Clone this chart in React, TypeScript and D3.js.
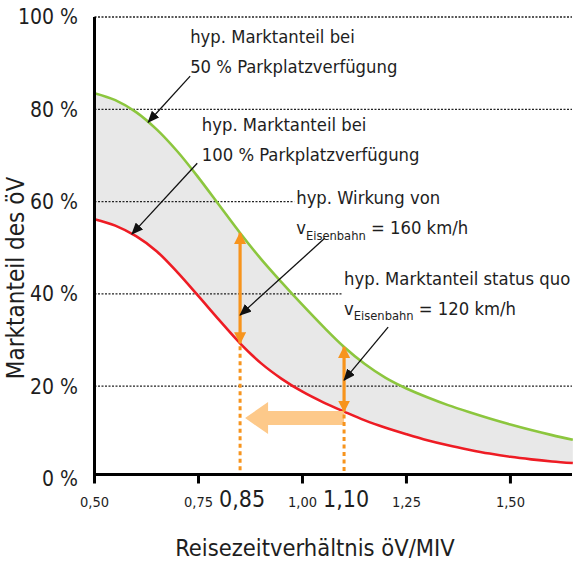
import * as React from 'react';
import * as d3 from 'd3';

// Reisezeitverhältnis öV/MIV
const ratios = [0.5, 0.55, 0.6, 0.65, 0.7, 0.75, 0.8, 0.85, 0.9, 0.95, 1.0, 1.05, 1.1, 1.15, 1.2, 1.25, 1.3, 1.35, 1.4, 1.45, 1.5, 1.55, 1.6, 1.65];
// Marktanteil öV bei 50 % Parkplatzverfügung (green)
const share50 = [83.5, 82.0, 79.4, 75.6, 70.8, 65.2, 59.2, 53.2, 47.6, 42.5, 37.6, 32.9, 28.5, 24.8, 21.8, 19.5, 17.6, 15.9, 14.4, 13.0, 11.7, 10.5, 9.4, 8.4];
// Marktanteil öV bei 100 % Parkplatzverfügung (red)
const share100 = [56.2, 54.8, 52.5, 49.2, 44.6, 39.5, 34.3, 29.3, 25.0, 21.6, 18.8, 16.5, 14.5, 12.6, 11.0, 9.6, 8.3, 7.2, 6.25, 5.4, 4.7, 4.15, 3.7, 3.35];

const yTicks = [0, 20, 40, 60, 80, 100];
const yTickLabels = ['0 %', '20 %', '40 %', '60 %', '80 %', '100 %'];
const xTicks = [0.5, 0.75, 1.0, 1.25, 1.5];
const xTickLabels = ['0,50', '0,75', '1,00', '1,25', '1,50'];
const scenarios = [0.85, 1.1];
const scenarioLabels = ['0,85', '1,10'];

const W = 582;
const H = 562;
const FONT = "'DejaVu Sans Condensed', 'DejaVu Sans', sans-serif";
const GREEN = '#8cc63e';
const RED = '#ee1c24';
const ORANGE = '#f7941d';
const TEXT = '#1e1e1e';
const NOTE_FS = 18.3;

const x = d3.scaleLinear().domain([0.5, 1.648]).range([94.5, 572]);
const y = d3.scaleLinear().domain([0, 100]).range([478.5, 17]);
const axisY = y(0) - 4; // drawn axis sits a bit above the 0 % value

const at = (series: number[], v: number) => d3.scaleLinear().domain(ratios).range(series)(v);

// annotation texts [ratio, percent of first line], arrows tail -> tip
const notes = [
  { lines: ['hyp. Marktanteil bei', '50 % Parkplatzverfügung'], pos: [0.73, 95.7], tail: [0.73, 87.2], tip: [0.629, at(share50, 0.629)] },
  { lines: ['hyp. Marktanteil bei', '100 % Parkplatzverfügung'], pos: [0.758, 76.6], tail: [0.747, 68.3], tip: [0.59, at(share100, 0.59)] },
  { lines: ['hyp. Wirkung von', 'v|Eisenbahn| = 160 km/h'], pos: [0.985, 60.8], tail: [1.054, 52.1], tip: [0.85, 35.4] },
  { lines: ['hyp. Marktanteil status quo', 'v|Eisenbahn| = 120 km/h'], pos: [1.1, 43.4], tail: [1.206, 32.8], tip: [1.1, 21.3] },
];
// gridlines stopping at the annotation texts
const gridStop: Record<number, number> = { 60: notes[2].pos[0] - 0.005, 40: notes[3].pos[0] - 0.005 };
const shiftLevel = 13.1;

const Line: React.FC<{ text: string; fs: number }> = ({ text, fs }) => {
  const parts = text.split('|');
  if (parts.length === 1) return <>{text}</>;
  return (
    <>
      {parts[0]}
      <tspan fontSize={fs * 0.7} dy={fs * 0.32}>{parts[1]}</tspan>
      <tspan dy={-fs * 0.32}>{parts[2]}</tspan>
    </>
  );
};

const App: React.FC = () => {
  const curve = d3.curveCatmullRom.alpha(0.5);
  const line = d3.line<number>().x((_, i) => x(ratios[i])).y(d => y(d)).curve(curve);
  const area = d3.area<number>()
    .x((_, i) => x(ratios[i]))
    .y0((_, i) => y(share100[i]))
    .y1(d => y(d))
    .curve(curve);

  const fatTip = x(scenarios[0]) + 5;
  const fatEnd = x(scenarios[1]);
  const fy = y(shiftLevel);
  const fatArrow = `M${fatTip},${fy} L${fatTip + 23},${fy - 16} L${fatTip + 23},${fy - 7} L${fatEnd},${fy - 7} L${fatEnd},${fy + 7} L${fatTip + 23},${fy + 7} L${fatTip + 23},${fy + 16} Z`;

  return (
    <svg width={W} height={H} style={{ position: 'absolute', left: 0, top: 0, background: '#fff' }} fontFamily={FONT}>
      <defs>
        <marker id="blk" viewBox="0 0 12 10" refX="11" refY="5" markerWidth="12" markerHeight="10" markerUnits="userSpaceOnUse" orient="auto">
          <path d="M0,0 L12,5 L0,10 Z" fill="#111" />
        </marker>
        <marker id="org" viewBox="0 0 12 12" refX="11" refY="6" markerWidth="12" markerHeight="12" markerUnits="userSpaceOnUse" orient="auto-start-reverse">
          <path d="M0,0 L12,6 L0,12 Z" fill={ORANGE} />
        </marker>
      </defs>

      <path d={area(share50) ?? ''} fill="#e8e8e8" />

      {yTicks.filter(t => t > 0).map(t => (
        <line key={t} x1={x(0.5)} x2={x(gridStop[t] ?? 1.648)} y1={y(t)} y2={y(t)}
          stroke="#222" strokeWidth={1.3} strokeDasharray="2,1.5" />
      ))}

      <path d={line(share50) ?? ''} fill="none" stroke={GREEN} strokeWidth={2.6} />
      <path d={line(share100) ?? ''} fill="none" stroke={RED} strokeWidth={2.6} />

      <path d={fatArrow} fill="#fdc98a" />

      {scenarios.map((s, i) => {
        const lo = at(share100, s);
        const hi = at(share50, s);
        return (
          <g key={s}>
            <line x1={x(s)} x2={x(s)} y1={y(lo) + 3} y2={axisY} stroke={ORANGE} strokeWidth={3} strokeDasharray="4,3.5" />
            <line x1={x(s)} x2={x(s)} y1={y(hi)} y2={y(lo)} stroke={ORANGE} strokeWidth={3.2}
              markerStart="url(#org)" markerEnd="url(#org)" />
            <text x={x(s) + 2} y={499} dy="0.35em" textAnchor="middle" fontSize={23} fill={TEXT}>{scenarioLabels[i]}</text>
          </g>
        );
      })}

      {notes.map((n, i) => (
        <g key={i}>
          <line x1={x(n.tail[0])} y1={y(n.tail[1])} x2={x(n.tip[0])} y2={y(n.tip[1])}
            stroke="#111" strokeWidth={1.3} markerEnd="url(#blk)" />
          {n.lines.map((l, j) => (
            <text key={j} x={x(n.pos[0])} y={y(n.pos[1]) + j * 30} dy="0.35em" fontSize={NOTE_FS} fill={TEXT}>
              <Line text={l} fs={NOTE_FS} />
            </text>
          ))}
        </g>
      ))}

      {/* axes */}
      <line x1={x(0.5)} x2={x(0.5)} y1={y(100)} y2={axisY + 1.5} stroke="#000" strokeWidth={3} />
      <line x1={x(0.5) - 1.5} x2={x(1.648)} y1={axisY} y2={axisY} stroke="#000" strokeWidth={3} />
      {xTicks.map((t, i) => (
        <g key={t}>
          <line x1={x(t)} x2={x(t)} y1={axisY} y2={axisY + 9} stroke="#000" strokeWidth={3} />
          <text x={x(t)} y={502} dy="0.35em" textAnchor="middle" fontSize={14.5} fill={TEXT}>{xTickLabels[i]}</text>
        </g>
      ))}
      {yTicks.map((t, i) => (
        <text key={t} x={78} y={y(t)} dy="0.35em" textAnchor="end" fontSize={21} fill={TEXT}>{yTickLabels[i]}</text>
      ))}

      <text x={315} y={548} dy="0.35em" textAnchor="middle" fontSize={23.5} fill={TEXT}>Reisezeitverhältnis öV/MIV</text>
      <text transform="translate(16,278) rotate(-90)" dy="0.35em" textAnchor="middle" fontSize={24} fill={TEXT}>Marktanteil des öV</text>
    </svg>
  );
};

export default App;
